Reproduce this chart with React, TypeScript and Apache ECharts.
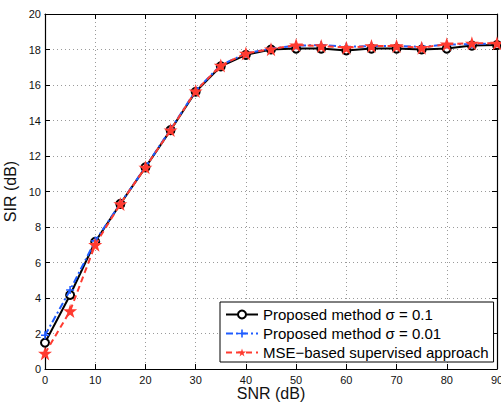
import React, { useEffect, useRef } from "react";
import * as echarts from "echarts";

const snr = [0, 5, 10, 15, 20, 25, 30, 35, 40, 45, 50, 55, 60, 65, 70, 75, 80, 85, 90];
const sigma01 = [1.48, 4.17, 7.17, 9.3, 11.36, 13.46, 15.62, 17.05, 17.7, 18.0, 18.05, 18.05, 17.95, 18.05, 18.05, 18.0, 18.05, 18.22, 18.25];
const sigma001 = [1.9, 4.45, 7.22, 9.32, 11.38, 13.5, 15.68, 17.12, 17.78, 18.05, 18.22, 18.25, 18.15, 18.2, 18.2, 18.15, 18.28, 18.3, 18.35];
const mse = [0.88, 3.27, 7.0, 9.3, 11.36, 13.46, 15.66, 17.1, 17.78, 18.02, 18.25, 18.2, 18.1, 18.2, 18.2, 18.1, 18.3, 18.35, 18.35];
const seriesNames = ["Proposed method σ = 0.1", "Proposed method σ = 0.01", "MSE−based supervised approach"];

const STAR = "path://M50,0 L61.8,35.1 L98.5,35.1 L68.8,56.7 L79.8,91.5 L50,70 L20.2,91.5 L31.2,56.7 L1.5,35.1 L38.2,35.1 Z";
const PLUS = "path://M4,0 L6,0 L6,4 L10,4 L10,6 L6,6 L6,10 L4,10 L4,6 L0,6 L0,4 L4,4 Z";

const FONT = "'Liberation Sans', Arial, Helvetica, sans-serif";

export default function App() {
  const ref = useRef<HTMLDivElement>(null);
  useEffect(() => {
    if (!ref.current) return;
    const chart = echarts.init(ref.current, undefined, { renderer: "svg" });
    const pair = (ys: number[]) => snr.map((x, i) => [x, ys[i]]);
    const gridLine = { show: true, lineStyle: { color: "#9a9a9a", type: [1, 3], width: 1 } };
    const axisBase = {
      type: "value" as const,
      axisLine: { show: true, onZero: false, lineStyle: { color: "#000", width: 1.2 } },
      axisTick: { show: true, inside: true, length: 5, lineStyle: { color: "#000" } },
      axisLabel: { fontFamily: FONT, fontSize: 11, lineHeight: 11, color: "#111" },
      nameTextStyle: { fontFamily: FONT, fontSize: 16, lineHeight: 14, color: "#111" },
      nameMoveOverlap: false,
    };
    chart.setOption({
      animation: false,
      backgroundColor: "#fff",
      textStyle: { fontFamily: FONT },
      grid: { left: 45, right: 4, top: 14, bottom: 34, containLabel: false, outerBoundsMode: "none" },
      xAxis: [
        {
          ...axisBase,
          min: 0,
          max: 90,
          interval: 10,
          position: "bottom",
          name: "SNR (dB)",
          nameLocation: "middle",
          nameGap: 17,
          axisLabel: { ...axisBase.axisLabel, margin: 5 },
          splitLine: gridLine,
        },
        {
          ...axisBase,
          min: 0,
          max: 90,
          interval: 10,
          position: "top",
          axisLabel: { show: false },
          splitLine: { show: false },
        },
      ],
      yAxis: [
        {
          ...axisBase,
          min: 0,
          max: 20,
          interval: 2,
          position: "left",
          name: "SIR (dB)",
          nameLocation: "middle",
          nameGap: 28,
          axisLabel: { ...axisBase.axisLabel, margin: 4 },
          splitLine: gridLine,
        },
        {
          ...axisBase,
          min: 0,
          max: 20,
          interval: 2,
          position: "right",
          axisLabel: { show: false },
          splitLine: { show: false },
        },
      ],
      legend: {
        orient: "vertical",
        left: 220,
        top: 302,
        padding: [5, 5, 2, 5],
        itemGap: 4,
        itemWidth: 32,
        itemHeight: 10,
        backgroundColor: "#fff",
        borderColor: "#000",
        borderWidth: 1,
        borderRadius: 0,
        textStyle: { fontFamily: FONT, fontSize: 15, lineHeight: 15, color: "#000", padding: [0, 0, 0, 0] },
        data: seriesNames,
      },
      series: [
        {
          name: seriesNames[0],
          type: "line",
          data: pair(sigma01),
          symbol: "emptyCircle",
          symbolSize: 8,
          color: "#000",
          lineStyle: { color: "#000", width: 2 },
          itemStyle: { color: "#000", borderColor: "#000", borderWidth: 1.8 },
          z: 2,
        },
        {
          name: seriesNames[1],
          type: "line",
          data: pair(sigma001),
          symbol: PLUS,
          symbolSize: 8,
          color: "#1f5cff",
          lineStyle: { color: "#1f5cff", width: 2, type: [7, 3, 2, 3] },
          itemStyle: { color: "#1f5cff" },
          z: 3,
        },
        {
          name: seriesNames[2],
          type: "line",
          data: pair(mse),
          symbol: STAR,
          symbolSize: 14,
          color: "#ff3b30",
          lineStyle: { color: "#ff3b30", width: 2, type: [6, 4] },
          itemStyle: { color: "#ff3b30" },
          z: 4,
        },
      ],
    });
    return () => chart.dispose();
  }, []);
  return (
    <div
      ref={ref}
      style={{ position: "fixed", left: 0, top: 0, width: 501, height: 403, background: "#fff" }}
    />
  );
}
